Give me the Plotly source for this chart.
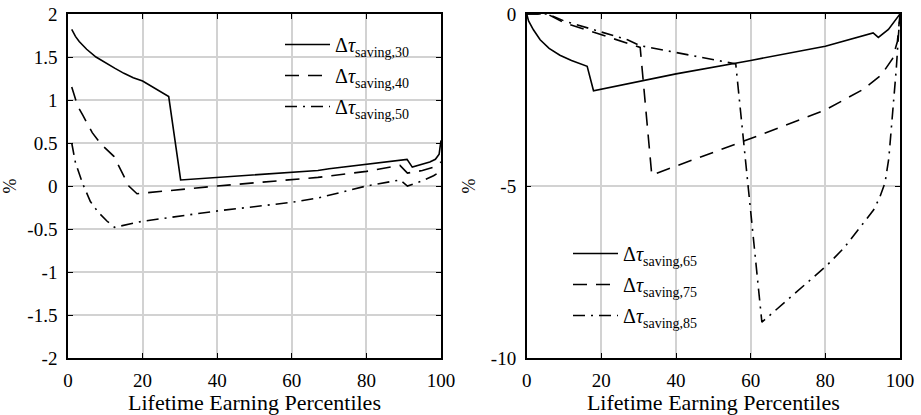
import plotly.graph_objects as go

# ---------------- data ----------------
# Left panel
x30 = [1, 2, 3, 5, 7.5, 10, 12.5, 15, 17.5, 20, 23, 27, 30.2, 40, 50, 60, 67, 70, 80, 90.9, 92.3, 95, 97, 98.5, 99.5, 100]
y30 = [1.82, 1.74, 1.68, 1.59, 1.5, 1.43, 1.37, 1.31, 1.26, 1.22, 1.14, 1.04, 0.07, 0.1, 0.13, 0.16, 0.18, 0.2, 0.25, 0.31, 0.22, 0.25, 0.28, 0.31, 0.37, 0.53]

x40 = [1, 2.6, 4, 6.5, 9, 12.3, 16.3, 18.5, 40, 67, 80, 89, 91, 95, 98, 100]
y40 = [1.15, 0.93, 0.82, 0.62, 0.48, 0.345, 0.0, -0.09, 0.0, 0.1, 0.17, 0.24, 0.15, 0.18, 0.22, 0.28]

x50 = [1, 2, 4, 6, 8, 10.5, 12.5, 20, 40, 60, 67, 80, 89, 91, 95, 98, 100]
y50 = [0.5, 0.27, 0.02, -0.18, -0.3, -0.41, -0.48, -0.41, -0.29, -0.19, -0.14, 0.0, 0.07, 0.0, 0.06, 0.12, 0.17]

# Right panel
x65 = [0, 0.5, 1.8, 3.6, 6, 8.9, 12, 15.4, 16.2, 17.9, 40, 60, 80, 92.8, 94.2, 96.9, 98.3, 99.3, 100]
y65 = [0, -0.2, -0.46, -0.75, -1.0, -1.2, -1.35, -1.48, -1.52, -2.23, -1.74, -1.35, -0.94, -0.55, -0.68, -0.45, -0.26, -0.12, 0]

x75 = [0, 5.5, 10, 20, 27, 30.4, 33.5, 60, 80, 90, 95, 98, 99.3, 100]
y75 = [0, 0, -0.25, -0.6, -0.85, -0.97, -4.68, -3.62, -2.79, -2.2, -1.77, -1.3, -0.8, 0]

x85 = [0, 5.5, 10, 20, 27, 30.4, 56, 63, 66.1, 71.4, 75.9, 80.4, 85, 89.3, 92.9, 94.5, 96, 97, 98, 99, 99.6, 100]
y85 = [0, 0, -0.2, -0.52, -0.75, -0.92, -1.45, -8.96, -8.67, -8.18, -7.75, -7.31, -6.8, -6.19, -5.7, -5.35, -4.9, -4.2, -3.0, -1.6, -0.6, 0]

x_ticks = [0, 20, 40, 60, 80, 100]
left_y_ticks = [-2, -1.5, -1, -0.5, 0, 0.5, 1, 1.5, 2]
left_y_text = ["-2", "-1.5", "-1", "-0.5", "0", "0.5", "1", "1.5", "2"]
right_y_ticks = [-10, -5, 0]
right_y_text = ["-10", "-5", "0"]

names_left = ["Δ<i>τ</i><sub>saving,30</sub>", "Δ<i>τ</i><sub>saving,40</sub>", "Δ<i>τ</i><sub>saving,50</sub>"]
names_right = ["Δ<i>τ</i><sub>saving,65</sub>", "Δ<i>τ</i><sub>saving,75</sub>", "Δ<i>τ</i><sub>saving,85</sub>"]

# ---------------- figure ----------------
FONT = "Liberation Serif"
W, H = 921, 415
T, B = 14, 57
PH = H - T - B
dashes = ["solid", "14px,9px", "12px,6px,2px,6px"]
LW = 1.6


def py(px):
    return 1 - (px - T) / PH


fig = go.Figure()
for i, (xs, ys) in enumerate([(x30, y30), (x40, y40), (x50, y50)]):
    fig.add_trace(go.Scatter(x=xs, y=ys, mode="lines", name=names_left[i],
                             line=dict(color="black", width=LW, dash=dashes[i]),
                             xaxis="x", yaxis="y", legend="legend", legendgroup="l%d" % i))
for i, (xs, ys) in enumerate([(x65, y65), (x75, y75), (x85, y85)]):
    fig.add_trace(go.Scatter(x=xs, y=ys, mode="lines", name=names_right[i],
                             line=dict(color="black", width=LW, dash=dashes[i]),
                             xaxis="x2", yaxis="y2", legend="legend2", legendgroup="r%d" % i))

axis_common = dict(showline=True, linecolor="black", linewidth=1.5, mirror="ticks",
                   ticks="inside", ticklen=5, tickwidth=1.2, tickcolor="black",
                   showgrid=True, gridcolor="#d2d2d2", gridwidth=1.5, zeroline=False,
                   automargin=False,
                   tickfont=dict(family=FONT, size=19, color="black"))

xtitle_font = dict(family=FONT, size=22, color="black")
ytitle_font = dict(family=FONT, size=18, color="black")

fig.update_layout(
    width=W, height=H,
    margin=dict(l=0, r=0, t=T, b=B, autoexpand=False),
    paper_bgcolor="white", plot_bgcolor="white",
    font=dict(family=FONT, color="black"),
    xaxis=dict(domain=[68 / W, 441 / W], range=[0, 100], tickvals=x_ticks, anchor="y",
               title=dict(text="Lifetime Earning Percentiles", font=xtitle_font, standoff=3),
               ticklabelstandoff=4, **axis_common),
    yaxis=dict(domain=[0, 1], range=[-2, 2], tickvals=left_y_ticks, ticktext=left_y_text, anchor="x",
               title=dict(text="%", font=ytitle_font, standoff=9),
               ticklabelstandoff=5, **axis_common),
    xaxis2=dict(domain=[526.7 / W, 900 / W], range=[0, 100], tickvals=x_ticks, anchor="y2",
                title=dict(text="Lifetime Earning Percentiles", font=xtitle_font, standoff=3),
                ticklabelstandoff=4, **axis_common),
    yaxis2=dict(domain=[0, 1], range=[-10, 0], tickvals=right_y_ticks, ticktext=right_y_text, anchor="x2",
                title=dict(text="%", font=ytitle_font, standoff=11),
                ticklabelstandoff=5, **axis_common),
    legend=dict(x=280 / W, y=py(25), xanchor="left", yanchor="top", bgcolor="rgba(0,0,0,0)",
                font=dict(family=FONT, size=20, color="black"), itemwidth=45, tracegroupgap=2,
                borderwidth=0),
    legend2=dict(x=568 / W, y=py(234), xanchor="left", yanchor="top", bgcolor="rgba(0,0,0,0)",
                 font=dict(family=FONT, size=20, color="black"), itemwidth=45, tracegroupgap=2,
                 borderwidth=0),
    showlegend=True,
)

fig.write_html("out.html", config={"displayModeBar": False},
               post_script="document.body.style.margin='0';")
